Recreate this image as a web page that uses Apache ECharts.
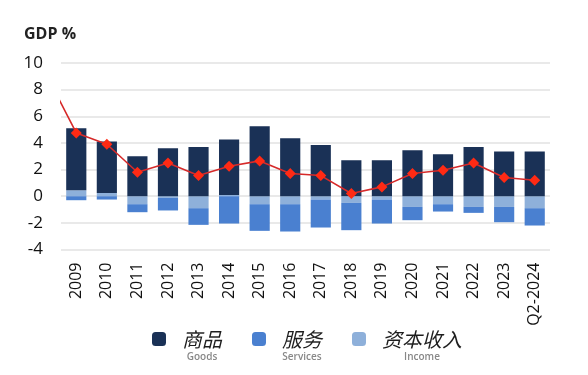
<!DOCTYPE html>
<html>
<head>
<meta charset="utf-8">
<script src="https://cdn.jsdelivr.net/npm/echarts@6/dist/echarts.min.js"></script>
<style>
  html, body { margin: 0; padding: 0; background: #fff; }
  #main { width: 588px; height: 375px; }
</style>
</head>
<body>
<div id="main"></div>
<script>
var categories = ['2009', '2010', '2011', '2012', '2013', '2014', '2015', '2016',
  '2017', '2018', '2019', '2020', '2021', '2022', '2023', 'Q2-2024'];
var goods = [4.65, 3.85, 3.0, 3.6, 3.7, 4.15, 5.25, 4.35, 3.85, 2.7, 2.7, 3.45, 3.15, 3.7, 3.35, 3.35];
var services = [-0.3, -0.25, -0.6, -0.95, -1.25, -2.05, -2.0, -2.05, -2.1, -2.05, -1.8, -1.0, -0.55, -0.45, -1.15, -1.3];
var income = [0.45, 0.25, -0.6, -0.12, -0.9, 0.1, -0.6, -0.6, -0.25, -0.5, -0.25, -0.8, -0.6, -0.8, -0.8, -0.9];
// current account balance; first value is 2008, mostly clipped off the left edge
var balancePrev = 9.2;
var balance = [4.75, 3.9, 1.8, 2.5, 1.55, 2.25, 2.65, 1.7, 1.55, 0.2, 0.7, 1.7, 1.95, 2.5, 1.4, 1.2];
var yTicks = [-4, 10, 2];

var myChart = echarts.init(document.getElementById('main'));

var lineData = [[-1, balancePrev]];
for (var i = 0; i < balance.length; ++i) {
  lineData.push([i, balance[i]]);
}

var legendRich = {
  top: { height: 14, lineHeight: 14, fontSize: 1 },
  cn: { fontSize: 20, lineHeight: 22, color: '#1e1e1e', fontFamily: 'Noto Sans CJK SC', fontWeight: 400, fontStyle: 'italic', align: 'center' },
  en: { fontSize: 10, lineHeight: 14, color: '#888', fontFamily: 'Open Sans', fontWeight: 600, align: 'center' }
};
var enNames = { '商品': 'Goods', '服务': 'Services', '资本收入': 'Income' };

var option = {
  animation: false,
  backgroundColor: '#fff',
  title: {
    text: 'GDP %',
    left: 19,
    top: 21,
    textStyle: { fontFamily: 'Open Sans', fontSize: 16, fontWeight: 'bold', color: '#222' }
  },
  grid: { left: 61, right: 38, top: 63, bottom: 125.5, containLabel: false },
  legend: {
    data: ['商品', '服务', '资本收入'],
    left: 147,
    top: 309,
    itemWidth: 14,
    itemHeight: 14,
    itemGap: 30,
    icon: 'roundRect',
    selectedMode: false,
    formatter: function(name) {
      return '{top| }\n{cn|' + name + '}\n{en|' + enNames[name] + '}';
    },
    textStyle: { rich: legendRich, padding: [0, 0, 0, 11] }
  },
  xAxis: [{
    type: 'category',
    data: categories,
    axisLine: { show: false },
    axisTick: { show: false },
    axisLabel: {
      rotate: 90,
      interval: 0,
      margin: 13,
      fontFamily: 'Open Sans',
      fontSize: 16,
      color: '#111'
    }
  }, {
    type: 'value',
    min: -0.5,
    max: categories.length - 0.5,
    show: false
  }],
  yAxis: {
    type: 'value',
    min: yTicks[0],
    max: yTicks[1],
    interval: yTicks[2],
    axisLine: { show: false },
    axisTick: { show: false },
    axisLabel: { fontFamily: 'Open Sans', fontSize: 17, color: '#111', margin: 18 },
    splitLine: { lineStyle: { color: '#e2e2e2', width: 1.5 } }
  },
  series: [{
    name: '资本收入',
    type: 'bar',
    stack: 'ca',
    barCategoryGap: '34%',
    itemStyle: { color: '#8eb0da' },
    data: income
  }, {
    name: '服务',
    type: 'bar',
    stack: 'ca',
    itemStyle: { color: '#4a80d0' },
    data: services
  }, {
    name: '商品',
    type: 'bar',
    stack: 'ca',
    itemStyle: { color: '#1a3156' },
    data: goods
  }, {
    name: 'balance',
    type: 'line',
    xAxisIndex: 1,
    clip: true,
    symbol: 'diamond',
    symbolSize: 11,
    lineStyle: { color: '#d62a2a', width: 1.6 },
    itemStyle: { color: '#ff2a14' },
    data: lineData,
    z: 5
  }]
};
myChart.setOption(option);
</script>
</body>
</html>
